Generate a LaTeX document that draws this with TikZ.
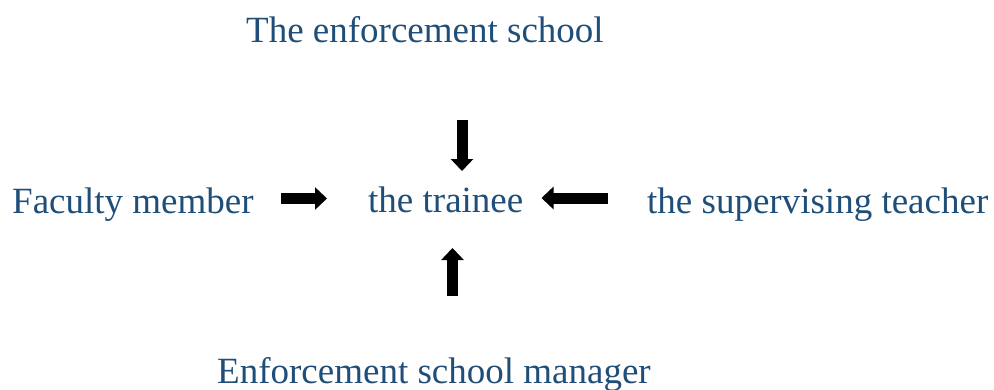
\documentclass[tikz,border=0pt]{standalone}
\usepackage{fontspec}
\setmainfont{Liberation Serif}
\usetikzlibrary{arrows.meta}
\definecolor{labelblue}{RGB}{31,78,121}
\tikzset{
  role/.style={anchor=base west,inner sep=0pt,text=labelblue,
    font=\fontsize{37}{40}\selectfont},
  blockarrow/.style={draw=black,line width=11pt,
    -{Triangle[width=22pt,length=12pt]}}
}
\begin{document}
\begin{tikzpicture}[x=1pt,y=-1pt]
\useasboundingbox (0,0) rectangle (994,389);

\node[role] (school) at (246,42) {The enforcement school};
\node[role] (faculty) at (12,213) {Faculty member};
\node[role] (trainee) at (368,212) {the trainee};
\node[role] (teacher) at (647,213) {the supervising teacher};
\node[role] (manager) at (217,383) {Enforcement school manager};

% arrows towards the trainee
\coordinate (downfrom) at (462,120);
\coordinate (downto) at (462,171);
\draw[blockarrow] (downfrom) -- (downto);

\coordinate (upfrom) at (452.5,296);
\coordinate (upto) at (452.5,248);
\draw[blockarrow] (upfrom) -- (upto);

\coordinate (rightfrom) at (281,198.5);
\coordinate (rightto) at (327,198.5);
\draw[blockarrow] (rightfrom) -- (rightto);

\coordinate (leftfrom) at (608,198);
\coordinate (leftto) at (541.5,198);
\draw[blockarrow] (leftfrom) -- (leftto);
\end{tikzpicture}
\end{document}
